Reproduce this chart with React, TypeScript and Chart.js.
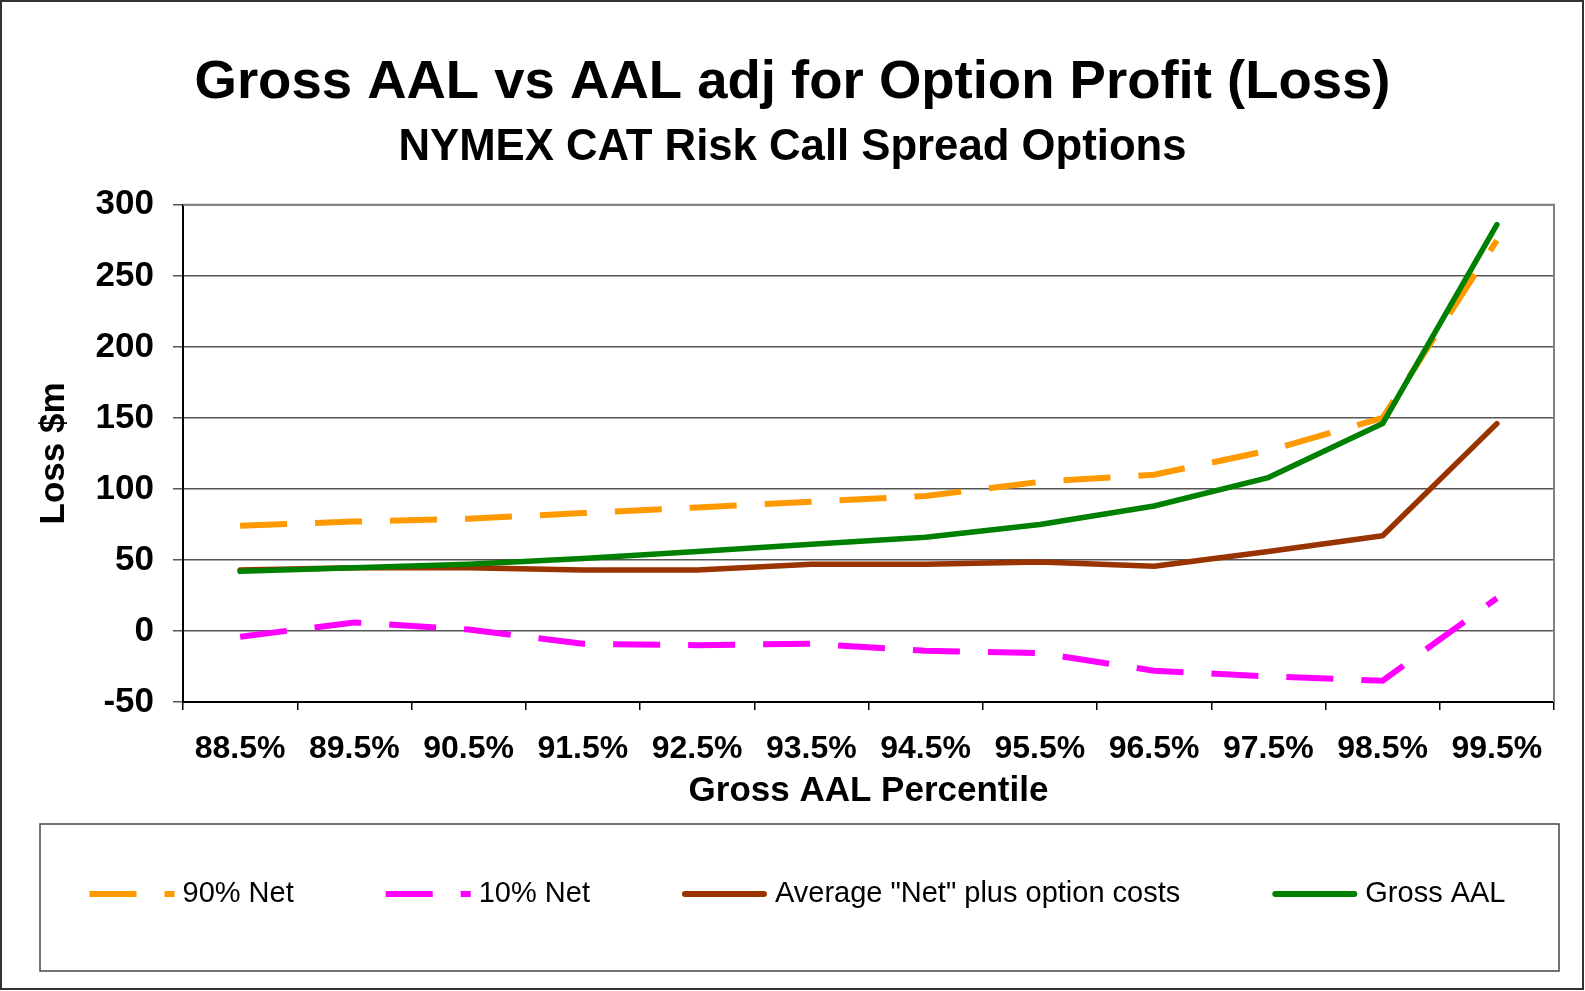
import React, { useEffect, useRef } from "react";
import { Chart, registerables } from "chart.js";

Chart.register(...registerables);

const categories = ["88.5%", "89.5%", "90.5%", "91.5%", "92.5%", "93.5%", "94.5%", "95.5%", "96.5%", "97.5%", "98.5%", "99.5%"];
const net90 = [74, 77, 79, 83, 87, 91, 95, 105, 110, 127, 150, 275];
const net10 = [-4, 6, 1, -9, -10, -9, -14, -15.5, -28, -32, -35, 23];
const avgNetPlusCosts = [43, 44.5, 44.5, 43, 43, 47, 47, 48.5, 45.5, 56, 67, 146];
const grossAAL = [42, 44.5, 47, 51, 56, 61, 66, 75, 88, 108, 146, 286];
const yMin = -50;
const yMax = 300;
const yStep = 50;

const FONT = '"Liberation Sans", Arial, Helvetica, sans-serif';

const frameAndLegend = {
  id: "frameAndLegend",
  beforeDatasetsDraw(chart: any) {
    const { ctx, chartArea } = chart;
    ctx.save();
    ctx.strokeStyle = "#808080";
    ctx.lineWidth = 2;
    ctx.beginPath();
    ctx.moveTo(chartArea.left, chartArea.top);
    ctx.lineTo(chartArea.right, chartArea.top);
    ctx.lineTo(chartArea.right, chartArea.bottom);
    ctx.stroke();
    ctx.restore();
  },
  afterDraw(chart: any) {
    const ctx = chart.ctx;
    ctx.save();
    // outer frame
    ctx.strokeStyle = "#333333";
    ctx.lineWidth = 2;
    ctx.strokeRect(1, 1, 1582, 988);
    // legend box
    const box = { x: 40, y: 824, w: 1519, h: 147 };
    ctx.lineWidth = 1.5;
    ctx.strokeStyle = "#444444";
    ctx.strokeRect(box.x, box.y, box.w, box.h);
    ctx.font = "29px " + FONT;
    const sample = 85;
    const gap = 8;
    const spacing = 92;
    const items = chart.data.datasets.map((ds: any) => ({ ds, tw: ctx.measureText(ds.label).width }));
    const total = items.reduce((s: number, it: any) => s + sample + gap + it.tw, 0) + spacing * (items.length - 1);
    let x = box.x + (box.w - total) / 2 - 2;
    const cy = 894;
    for (const it of items) {
      const dashed = it.ds.borderDash && it.ds.borderDash.length;
      ctx.beginPath();
      ctx.setLineDash(dashed ? it.ds.borderDash : []);
      ctx.lineWidth = 6;
      ctx.strokeStyle = it.ds.borderColor;
      ctx.lineCap = dashed ? "butt" : "round";
      if (dashed) {
        ctx.moveTo(x, cy);
        ctx.lineTo(x + sample, cy);
      } else {
        ctx.moveTo(x + 3, cy);
        ctx.lineTo(x + sample - 3, cy);
      }
      ctx.stroke();
      ctx.setLineDash([]);
      ctx.fillStyle = "#000000";
      ctx.textBaseline = "middle";
      ctx.textAlign = "left";
      ctx.fillText(it.ds.label, x + sample + gap, cy);
      x += sample + gap + it.tw + spacing;
    }
    ctx.restore();
  },
};

export default function App() {
  const ref = useRef<HTMLCanvasElement | null>(null);

  useEffect(() => {
    if (!ref.current) return;
    const chart = new Chart(ref.current, {
      type: "line",
      data: {
        labels: categories,
        datasets: [
          {
            label: "90% Net",
            data: net90,
            borderColor: "#FF9900",
            backgroundColor: "#FF9900",
            borderWidth: 6,
            borderDash: [47, 28],
            borderCapStyle: "butt",
            pointRadius: 0,
            tension: 0,
            order: 3,
          },
          {
            label: "10% Net",
            data: net10,
            borderColor: "#FF00FF",
            backgroundColor: "#FF00FF",
            borderWidth: 6,
            borderDash: [47, 28],
            borderCapStyle: "butt",
            pointRadius: 0,
            tension: 0,
            order: 4,
          },
          {
            label: 'Average "Net" plus option costs',
            data: avgNetPlusCosts,
            borderColor: "#993300",
            backgroundColor: "#993300",
            borderWidth: 5.5,
            borderCapStyle: "round",
            borderJoinStyle: "round",
            pointRadius: 0,
            tension: 0,
            order: 2,
          },
          {
            label: "Gross AAL",
            data: grossAAL,
            borderColor: "#008000",
            backgroundColor: "#008000",
            borderWidth: 5.5,
            borderCapStyle: "round",
            borderJoinStyle: "round",
            pointRadius: 0,
            tension: 0,
            order: 1,
          },
        ],
      },
      options: {
        responsive: false,
        animation: false,
        devicePixelRatio: 1,
        layout: { padding: { left: 31, right: 31, top: 0, bottom: 179 } },
        plugins: {
          legend: { display: false },
          tooltip: { enabled: false },
          title: {
            display: true,
            text: "Gross AAL vs AAL adj for Option Profit (Loss)",
            color: "#000000",
            font: { family: FONT, size: 54.5, weight: "bold", lineHeight: 1.2 },
            padding: { top: 50, bottom: 0 },
          },
          subtitle: {
            display: true,
            text: "NYMEX CAT Risk Call Spread Options",
            color: "#000000",
            font: { family: FONT, size: 43.7, weight: "bold", lineHeight: 1.2 },
            padding: { top: 6, bottom: 31 },
          },
        },
        scales: {
          x: {
            type: "category",
            offset: true,
            grid: {
              display: true,
              offset: true,
              drawOnChartArea: false,
              drawTicks: true,
              tickLength: 8,
              color: "#000000",
              lineWidth: 1.5,
            },
            border: { display: true, color: "#000000", width: 2 },
            ticks: {
              color: "#000000",
              font: { family: FONT, size: 32, weight: "bold", lineHeight: 1.2 },
              padding: 20,
              maxRotation: 0,
              autoSkip: false,
            },
            title: {
              display: true,
              text: "Gross AAL Percentile",
              color: "#000000",
              font: { family: FONT, size: 35, weight: "bold", lineHeight: 1.2 },
              padding: { top: 0, bottom: 0 },
            },
            afterFit(scale: any) {
              scale.height = 110;
            },
          },
          y: {
            min: yMin,
            max: yMax,
            ticks: {
              stepSize: yStep,
              color: "#000000",
              font: { family: FONT, size: 35, weight: "bold", lineHeight: 1.2 },
              padding: 19,
            },
            grid: {
              color: "#555555",
              lineWidth: 1.5,
              drawTicks: true,
              tickLength: 10,
            },
            border: { display: true, color: "#000000", width: 2 },
            title: {
              display: true,
              text: "Loss $m",
              color: "#000000",
              font: { family: FONT, size: 35, weight: "bold", lineHeight: 1.2 },
              padding: { top: 2, bottom: 0 },
            },
            afterFit(scale: any) {
              scale.width = 152;
            },
          },
        },
      },
      plugins: [frameAndLegend],
    });
    return () => chart.destroy();
  }, []);

  return (
    <div style={{ position: "fixed", left: 0, top: 0, width: 1585, height: 991, background: "#ffffff" }}>
      <canvas ref={ref} width={1585} height={991} style={{ display: "block", width: 1585, height: 991 }} />
    </div>
  );
}
